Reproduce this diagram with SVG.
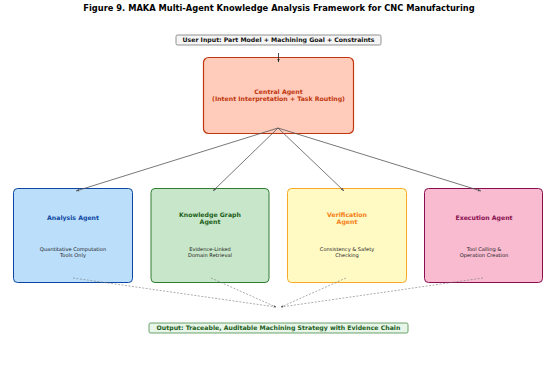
<svg xmlns="http://www.w3.org/2000/svg" width="557" height="369" viewBox="0 0 557 369">
<defs>
<marker id="ah" viewBox="0 0 10 10" refX="10" refY="5" markerWidth="4" markerHeight="4" orient="auto-start-reverse"><path d="M0,1 L10,5 L0,9 z" fill="#555"/></marker>
<marker id="ahb" viewBox="0 0 10 10" refX="10" refY="5" markerWidth="4" markerHeight="4" orient="auto"><path d="M0,1 L10,5 L0,9 z" fill="#222"/></marker>
</defs>
<style>
text{font-family:"DejaVu Sans","Liberation Sans",sans-serif;text-anchor:middle}
.title{font-size:8.3px;font-weight:bold;fill:#000}
.io{font-size:6.2px;font-weight:bold}
.bt{font-size:6.2px;font-weight:bold}
.desc{font-size:5.1px;fill:#222}
.conn{stroke:#555;stroke-width:0.8;fill:none}
.dash{stroke:#777;stroke-width:0.6;fill:none;stroke-dasharray:2,1.5}
</style>
<rect width="557" height="369" fill="#fff"/>
<text class="title" x="279" y="11">Figure 9. MAKA Multi-Agent Knowledge Analysis Framework for CNC Manufacturing</text>
<g id="input">
<rect x="176" y="35" width="205" height="10" rx="1.5" fill="#f5f5f5" stroke="#666" stroke-width="0.7"/>
<text class="io" x="278.5" y="42.3" fill="#111">User Input: Part Model + Machining Goal + Constraints</text>
</g>
<g id="central">
<rect x="203.5" y="57.5" width="150" height="76" rx="5" fill="#ffccbc" stroke="#bf360c" stroke-width="1.2"/>
<text class="bt" x="278.5" y="94" fill="#bf360c" font-size="5.7">Central Agent</text>
<text class="bt" x="278.5" y="101" fill="#bf360c" font-size="5.7">(Intent Interpretation + Task Routing)</text>
</g>
<g id="analysis">
<rect x="13.5" y="188.5" width="119" height="94" rx="4" fill="#bbdefb" stroke="#0d47a1" stroke-width="1"/>
<text class="bt" x="73" y="220" fill="#0d47a1">Analysis Agent</text>
<text class="desc" x="73" y="251">Quantitative Computation</text>
<text class="desc" x="73" y="257">Tools Only</text>
</g>
<g id="kg">
<rect x="151" y="188.5" width="118" height="94" rx="4" fill="#c8e6c9" stroke="#2e7d32" stroke-width="1"/>
<text class="bt" x="210" y="216.5" fill="#1b5e20">Knowledge Graph</text>
<text class="bt" x="210" y="223.5" fill="#1b5e20">Agent</text>
<text class="desc" x="210" y="251">Evidence-Linked</text>
<text class="desc" x="210" y="257">Domain Retrieval</text>
</g>
<g id="verification">
<rect x="287.5" y="188.5" width="119" height="94" rx="4" fill="#fff9c4" stroke="#f9a825" stroke-width="1"/>
<text class="bt" x="347" y="216.5" fill="#f57f17">Verification</text>
<text class="bt" x="347" y="223.5" fill="#f57f17">Agent</text>
<text class="desc" x="347" y="251">Consistency &amp; Safety</text>
<text class="desc" x="347" y="257">Checking</text>
</g>
<g id="execution">
<rect x="424.5" y="188.5" width="118" height="94" rx="4" fill="#f8bbd0" stroke="#880e4f" stroke-width="1"/>
<text class="bt" x="484" y="220" fill="#880e4f">Execution Agent</text>
<text class="desc" x="484" y="251">Tool Calling &amp;</text>
<text class="desc" x="484" y="257">Operation Creation</text>
</g>
<g id="output">
<rect x="149" y="323" width="259" height="10" rx="1.5" fill="#e8f5e9" stroke="#2e7d32" stroke-width="0.7"/>
<text class="io" x="278.5" y="330.3" fill="#1b5e20">Output: Traceable, Auditable Machining Strategy with Evidence Chain</text>
</g>
<g id="connectors">
<line x1="278.5" y1="53" x2="278.5" y2="62" stroke="#222" stroke-width="0.8" marker-end="url(#ahb)"/>
<line class="conn" x1="278" y1="128" x2="76" y2="191" marker-end="url(#ah)"/>
<line class="conn" x1="278" y1="128" x2="213" y2="191" marker-end="url(#ah)"/>
<line class="conn" x1="278" y1="128" x2="344" y2="191" marker-end="url(#ah)"/>
<line class="conn" x1="278" y1="128" x2="481" y2="191" marker-end="url(#ah)"/>
<line class="dash" x1="73" y1="278" x2="276" y2="307" marker-end="url(#ah)"/>
<line class="dash" x1="211" y1="278" x2="276" y2="307" marker-end="url(#ah)"/>
<line class="dash" x1="346" y1="278" x2="281" y2="307" marker-end="url(#ah)"/>
<line class="dash" x1="483" y1="278" x2="281" y2="307" marker-end="url(#ah)"/>
</g>
</svg>
